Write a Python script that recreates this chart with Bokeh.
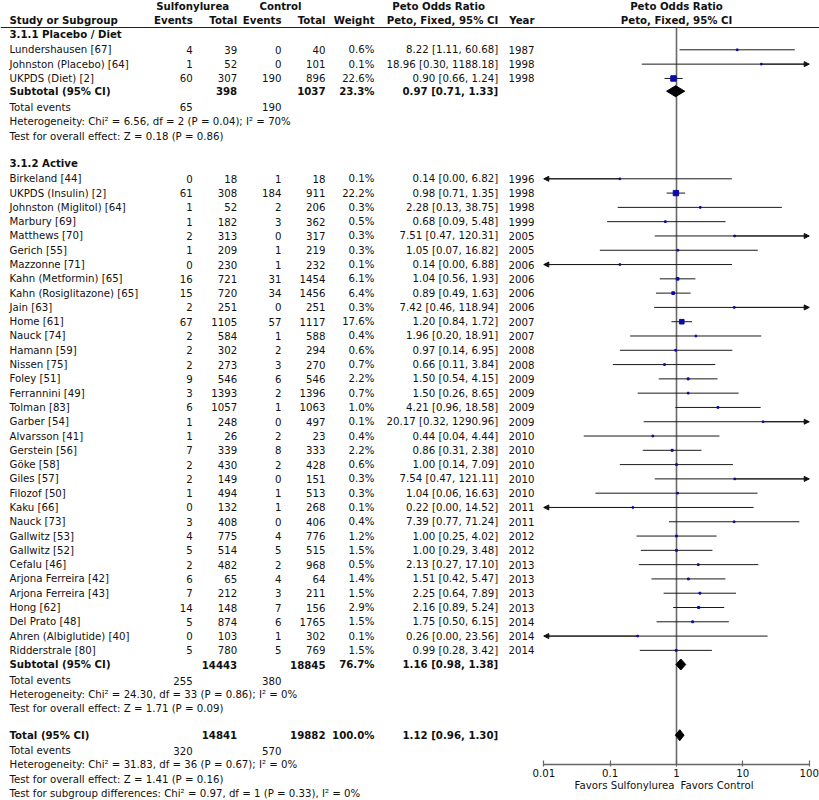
import numpy as np
from bokeh.plotting import figure
from bokeh.models import (Range1d, LogScale, LogAxis, FixedTicker, ColumnDataSource,
                          Arrow, NormalHead)
from bokeh.core.properties import value
from bokeh.embed import file_html
from bokeh.resources import INLINE

# ---------------- data ----------------
names1 = ["Lundershausen [67]", "Johnston (Placebo) [64]", "UKPDS (Diet) [2]"]
ev_s1 = [4, 1, 60]
tot_s1 = [39, 52, 307]
ev_c1 = [0, 0, 190]
tot_c1 = [40, 101, 896]
w1 = [0.6, 0.1, 22.6]
or1 = [8.22, 18.96, 0.90]
lo1 = [1.11, 0.30, 0.66]
hi1 = [60.68, 1188.18, 1.24]
yr1 = [1987, 1998, 1998]

names2 = ["Birkeland [44]", "UKPDS (Insulin) [2]", "Johnston (Miglitol) [64]", "Marbury [69]",
          "Matthews [70]", "Gerich [55]", "Mazzonne [71]", "Kahn (Metformin) [65]",
          "Kahn (Rosiglitazone) [65]", "Jain [63]", "Home [61]", "Nauck [74]", "Hamann [59]",
          "Nissen [75]", "Foley [51]", "Ferrannini [49]", "Tolman [83]", "Garber [54]",
          "Alvarsson [41]", "Gerstein [56]", "Göke [58]", "Giles [57]", "Filozof [50]",
          "Kaku [66]", "Nauck [73]", "Gallwitz [53]", "Gallwitz [52]", "Cefalu [46]",
          "Arjona Ferreira [42]", "Arjona Ferreira [43]", "Hong [62]", "Del Prato [48]",
          "Ahren (Albiglutide) [40]", "Ridderstrale [80]"]
ev_s2 = [0, 61, 1, 1, 2, 1, 0, 16, 15, 2, 67, 2, 2, 2, 9, 3, 6, 1, 1, 7, 2, 2, 1, 0, 3, 4, 5, 2, 6, 7, 14, 5, 0, 5]
tot_s2 = [18, 308, 52, 182, 313, 209, 230, 721, 720, 251, 1105, 584, 302, 273, 546, 1393, 1057, 248,
          26, 339, 430, 149, 494, 132, 408, 775, 514, 482, 65, 212, 148, 874, 103, 780]
ev_c2 = [1, 184, 2, 3, 0, 1, 1, 31, 34, 0, 57, 1, 2, 3, 6, 2, 1, 0, 2, 8, 2, 0, 1, 1, 0, 4, 5, 2, 4, 3, 7, 6, 1, 5]
tot_c2 = [18, 911, 206, 362, 317, 219, 232, 1454, 1456, 251, 1117, 588, 294, 270, 546, 1396, 1063, 497,
          23, 333, 428, 151, 513, 268, 406, 776, 515, 968, 64, 211, 156, 1765, 302, 769]
w2 = [0.1, 22.2, 0.3, 0.5, 0.3, 0.3, 0.1, 6.1, 6.4, 0.3, 17.6, 0.4, 0.6, 0.7, 2.2, 0.7, 1.0, 0.1,
      0.4, 2.2, 0.6, 0.3, 0.3, 0.1, 0.4, 1.2, 1.5, 0.5, 1.4, 1.5, 2.9, 1.5, 0.1, 1.5]
or2 = [0.14, 0.98, 2.28, 0.68, 7.51, 1.05, 0.14, 1.04, 0.89, 7.42, 1.20, 1.96, 0.97, 0.66, 1.50, 1.50,
       4.21, 20.17, 0.44, 0.86, 1.00, 7.54, 1.04, 0.22, 7.39, 1.00, 1.00, 2.13, 1.51, 2.25, 2.16, 1.75,
       0.26, 0.99]
lo2 = [0.00, 0.71, 0.13, 0.09, 0.47, 0.07, 0.00, 0.56, 0.49, 0.46, 0.84, 0.20, 0.14, 0.11, 0.54, 0.26,
       0.96, 0.32, 0.04, 0.31, 0.14, 0.47, 0.06, 0.00, 0.77, 0.25, 0.29, 0.27, 0.42, 0.64, 0.89, 0.50,
       0.00, 0.28]
hi2 = [6.82, 1.35, 38.75, 5.48, 120.31, 16.82, 6.88, 1.93, 1.63, 118.94, 1.72, 18.91, 6.95, 3.84, 4.15,
       8.65, 18.58, 1290.96, 4.44, 2.38, 7.09, 121.11, 16.63, 14.52, 71.24, 4.02, 3.48, 17.10, 5.47,
       7.89, 5.24, 6.15, 23.56, 3.42]
yr2 = [1996, 1998, 1998, 1999, 2005, 2005, 2006, 2006, 2006, 2006, 2007, 2007, 2008, 2008, 2009, 2009,
       2009, 2009, 2010, 2010, 2010, 2010, 2010, 2011, 2011, 2012, 2012, 2013, 2013, 2013, 2013, 2014,
       2014, 2014]

# subtotal / total rows: (total_s, total_c, weight, or, lo, hi, events_s, events_c)
sub1 = (398, 1037, 23.3, 0.97, 0.71, 1.33, 65, 190)
sub2 = (14443, 18845, 76.7, 1.16, 0.98, 1.38, 255, 380)
tot_all = (14841, 19882, 100.0, 1.12, 0.96, 1.30, 320, 570)
het1 = "Heterogeneity: Chi² = 6.56, df = 2 (P = 0.04); I² = 70%"
eff1 = "Test for overall effect: Z = 0.18 (P = 0.86)"
het2 = "Heterogeneity: Chi² = 24.30, df = 33 (P = 0.86); I² = 0%"
eff2 = "Test for overall effect: Z = 1.71 (P = 0.09)"
het_t = "Heterogeneity: Chi² = 31.83, df = 36 (P = 0.67); I² = 0%"
eff_t = "Test for overall effect: Z = 1.41 (P = 0.16)"
sub_diff = "Test for subgroup differences: Chi² = 0.97, df = 1 (P = 0.33), I² = 0%"
tick_vals = [0.01, 0.1, 1, 10, 100]
tick_labels = ["0.01", "0.1", "1", "10", "100"]
favors_left = "Favors Sulfonylurea"
favors_right = "Favors Control"

# ---------------- layout ----------------
FONT_NAME = "DejaVu Sans"
FONT = value(FONT_NAME)
FS = "10.2px"
X1, DEC = 676.0, 66.35        # pixel of OR=1, pixels per decade
W, H = 819, 800

p = figure(width=W, height=H, output_backend="svg", toolbar_location=None,
           x_range=Range1d(0, W), y_range=Range1d(H, 0),
           x_axis_location=None, y_axis_location=None, min_border=0)
p.grid.visible = False
p.outline_line_color = None
p.extra_x_ranges = {"or": Range1d(10 ** ((0 - X1) / DEC), 10 ** ((W - X1) / DEC))}
p.extra_x_scales = {"or": LogScale()}


def txt(x, y, t, align="left", bold=False, color="#111111"):
    if not isinstance(t, list):
        t = [t]
    if not isinstance(y, (list, np.ndarray)):
        y = [y] * len(t)
    p.text(x=[x] * len(t), y=list(y), text=t, text_align=align, text_baseline="middle",
           text_font=FONT, text_font_size=FS, text_color=color,
           text_font_style="bold" if bold else "normal")


# column edges
C_NAME, C_EVS, C_TOTS, C_EVC, C_TOTC, C_W, C_CI, C_YR = 9, 192.3, 236.7, 281, 325, 374, 497.7, 534

# headers
txt(192.2, 5.5, "Sulfonylurea", "center", True)
txt(280, 5.5, "Control", "center", True)
txt(391.7, 5.5, "Peto Odds Ratio", "left", True)
txt(C_NAME, 19.5, "Study or Subgroup", "left", True)
txt(C_EVS, 19.5, "Events", "right", True)
txt(C_TOTS, 19.5, "Total", "right", True)
txt(C_EVC, 19.5, "Events", "right", True)
txt(C_TOTC, 19.5, "Total", "right", True)
txt(C_W, 19.5, "Weight", "right", True)
txt(C_CI, 19.5, "Peto, Fixed, 95% CI", "right", True)
txt(C_YR, 19.5, "Year", "right", True)
p.text(x=[1, 1], y=[5.5, 19.5], text=["Peto Odds Ratio", "Peto, Fixed, 95% CI"], x_range_name="or",
       text_align="center", text_baseline="middle", text_font=FONT, text_font_size=FS,
       text_color="#111111", text_font_style="bold")
p.segment(x0=[0], x1=[W], y0=[27], y1=[27], line_color="#222222", line_width=1)

# row positions
y_g1 = 33.5
y1 = [49.3 + i * 14.33 for i in range(len(names1))]
y_sub1 = 90.7
y_g2 = 162.7
y2 = [178.3 + i * 14.29 for i in range(len(names2))]
y_sub2 = 664.0
y_tot = 734.7
AXIS_Y = 764


def study_rows(names, evs, tots, evc, totc, w, orv, lo, hi, yr, ys):
    txt(C_NAME, ys, list(names))
    txt(C_EVS, ys, [str(v) for v in evs], "right")
    txt(C_TOTS, ys, [str(v) for v in tots], "right")
    txt(C_EVC, ys, [str(v) for v in evc], "right")
    txt(C_TOTC, ys, [str(v) for v in totc], "right")
    txt(C_W, ys, ["%.1f%%" % v for v in w], "right")
    txt(C_CI, ys, ["%.2f [%.2f, %.2f]" % (a, b, c) for a, b, c in zip(orv, lo, hi)], "right")
    txt(C_YR, ys, [str(v) for v in yr], "right")
    lo_c = np.clip(lo, 0.01, 100)
    hi_c = np.clip(hi, 0.01, 100)
    p.segment(x0=lo_c, x1=hi_c, y0=ys, y1=ys, x_range_name="or", line_color="#1a1a1a", line_width=1)
    sizes = [1.6 + 0.17 * v for v in w]
    p.scatter(x=orv, y=ys, size=sizes, marker="square", x_range_name="or",
              fill_color="#0a0aa8", line_color="#0a0aa8")
    # arrows for truncated intervals
    rx = [o for o, h in zip(orv, hi) if h > 100]
    ry = [yv for yv, h in zip(ys, hi) if h > 100]
    lx = [o for o, l in zip(orv, lo) if l < 0.01]
    ly = [yv for yv, l in zip(ys, lo) if l < 0.01]
    if rx:
        src = ColumnDataSource(dict(xs=rx, xe=[100] * len(rx), y=ry))
        p.add_layout(Arrow(end=NormalHead(size=5, fill_color="#111111", line_color="#111111"),
                           x_start="xs", x_end="xe", y_start="y", y_end="y", source=src,
                           x_range_name="or", line_color="#1a1a1a", line_width=1))
    if lx:
        src = ColumnDataSource(dict(xs=lx, xe=[0.01] * len(lx), y=ly))
        p.add_layout(Arrow(end=NormalHead(size=5, fill_color="#111111", line_color="#111111"),
                           x_start="xs", x_end="xe", y_start="y", y_end="y", source=src,
                           x_range_name="or", line_color="#1a1a1a", line_width=1))


def summary(label, s, ys, y_events, het, eff, y_het, y_eff):
    txt(C_NAME, ys, label, "left", True)
    txt(C_TOTS, ys, str(s[0]), "right", True)
    txt(C_TOTC, ys, str(s[1]), "right", True)
    txt(C_W, ys, "%.1f%%" % s[2], "right", True)
    txt(C_CI, ys, "%.2f [%.2f, %.2f]" % (s[3], s[4], s[5]), "right", True)
    txt(C_NAME, y_events, "Total events")
    txt(C_EVS, y_events, str(s[6]), "right")
    txt(C_EVC, y_events, str(s[7]), "right")
    txt(C_NAME, y_het, het)
    txt(C_NAME, y_eff, eff)
    p.patches(xs=[[s[4], s[3], s[5], s[3]]], ys=[[ys, ys - 5.5, ys, ys + 5.5]], x_range_name="or",
              fill_color="#000000", line_color="#000000")


# vertical line of no effect
p.segment(x0=[1], x1=[1], y0=[27], y1=[AXIS_Y], x_range_name="or", line_color="#6a6a6a", line_width=1.6)

txt(C_NAME, y_g1, "3.1.1 Placebo / Diet", "left", True)
study_rows(names1, ev_s1, tot_s1, ev_c1, tot_c1, w1, or1, lo1, hi1, yr1, y1)
summary("Subtotal (95% CI)", sub1, y_sub1, 106.5, het1, eff1, 121.0, 135.5)

txt(C_NAME, y_g2, "3.1.2 Active", "left", True)
study_rows(names2, ev_s2, tot_s2, ev_c2, tot_c2, w2, or2, lo2, hi2, yr2, y2)
summary("Subtotal (95% CI)", sub2, y_sub2, 680.0, het2, eff2, 694.0, 708.0)

summary("Total (95% CI)", tot_all, y_tot, 750.0, het_t, eff_t, 764.0, 778.7)
txt(C_NAME, 793.3, sub_diff)

# log axis
ax = LogAxis(x_range_name="or", fixed_location=AXIS_Y, bounds=(0.01, 100),
             ticker=FixedTicker(ticks=tick_vals),
             major_label_overrides={v: l for v, l in zip(tick_vals, tick_labels)},
             major_tick_in=4, major_tick_out=2, minor_tick_in=0, minor_tick_out=0,
             major_label_standoff=2, axis_line_color="#666666", axis_line_width=1.5,
             major_tick_line_color="#666666", major_tick_line_width=1.2,
             major_label_text_font=FONT_NAME, major_label_text_font_size=FS,
             major_label_text_color="#111111")
p.add_layout(ax, "below")

p.text(x=[1], y=[784.5], text=[favors_left], x_range_name="or", text_align="right",
       text_baseline="middle", text_font=FONT, text_font_size=FS, text_color="#111111", x_offset=-2)
p.text(x=[1], y=[784.5], text=[favors_right], x_range_name="or", text_align="left",
       text_baseline="middle", text_font=FONT, text_font_size=FS, text_color="#111111", x_offset=4)

open("out.html", "w").write(file_html(p, INLINE))
